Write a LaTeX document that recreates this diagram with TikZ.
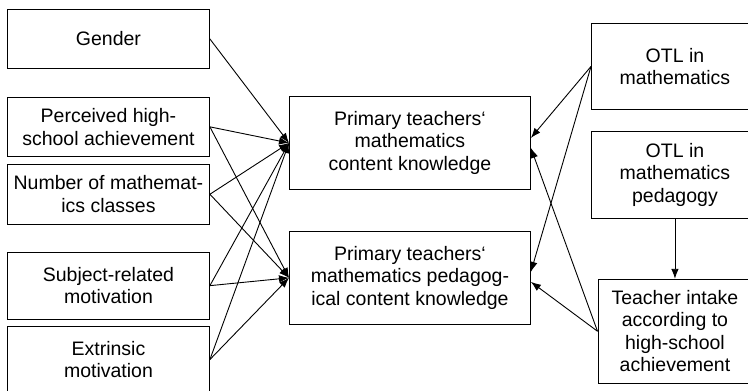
\documentclass[tikz,border=0pt]{standalone}
\usepackage{fontspec}
\setmainfont{Liberation Sans}
\usetikzlibrary{positioning, arrows.meta}

\begin{document}
\begin{tikzpicture}[
		x=1pt, y=1pt, line width=0.9pt,
		factor/.style={draw, align=center, minimum width=202pt, inner sep=2pt, font=\fontsize{19.5pt}{22.5pt}\selectfont},
		outcome/.style={draw, align=center, minimum width=241pt, minimum height=93pt, inner sep=2pt, font=\fontsize{19.5pt}{22.5pt}\selectfont},
		otl/.style={draw, align=center, minimum width=167pt, inner sep=2pt, font=\fontsize{19.5pt}{22.5pt}\selectfont},
		link/.style={-{Latex[length=10pt, width=7.5pt]}}
		]
		\useasboundingbox (0,0) rectangle (748,-391);
		
		% predictors on the left
		\node[factor, minimum height=59pt, anchor=north west] (gender) at (7,-9) {Gender};
		\node[factor, minimum height=59pt, below=28pt of gender] (perc) {Perceived high-\\school achievement};
		\node[factor, minimum height=60pt, below=7pt of perc] (classes) {Number of mathemat-\\ics classes};
		\node[factor, minimum height=67pt, below=27pt of classes] (subj) {Subject-related\\motivation};
		\node[factor, minimum height=67pt, below=6pt of subj] (extr) {Extrinsic\\motivation};
		
		% knowledge outcomes
		\node[outcome, anchor=north west] (ck) at (289,-96) {Primary teachers‘\\mathematics\\content knowledge};
		\node[outcome, below=41pt of ck] (pck) {Primary teachers‘\\mathematics pedagog-\\ical content knowledge};
		
		% opportunities to learn
		\node[otl, minimum height=86pt, anchor=north west] (otlm) at (591,-23) {OTL in\\mathematics};
		\node[otl, minimum height=87pt, below=21pt of otlm] (otlp) {OTL in\\mathematics\\pedagogy};
		\node[otl, minimum width=154pt, minimum height=104pt, below=60pt of otlp] (intake) {Teacher intake\\according to\\high-school\\achievement};
		
		\foreach \f in {gender, perc, classes, subj, extr}{
			\draw[link] (\f.east) -- (ck.west);
		}
		\foreach \f in {perc, classes, subj, extr}{
			\draw[link] (\f.east) -- (pck.west);
		}
		\draw[link] (otlm.west) -- ([yshift=5pt]ck.east);
		\draw[link] (otlm.west) -- ([yshift=6pt]pck.east);
		\draw[link] (intake.west) -- ([yshift=-5pt]ck.east);
		\draw[link] (intake.west) -- ([yshift=-4pt]pck.east);
		\draw[link] (otlp) -- (intake);
		
	\end{tikzpicture}
\end{document}
